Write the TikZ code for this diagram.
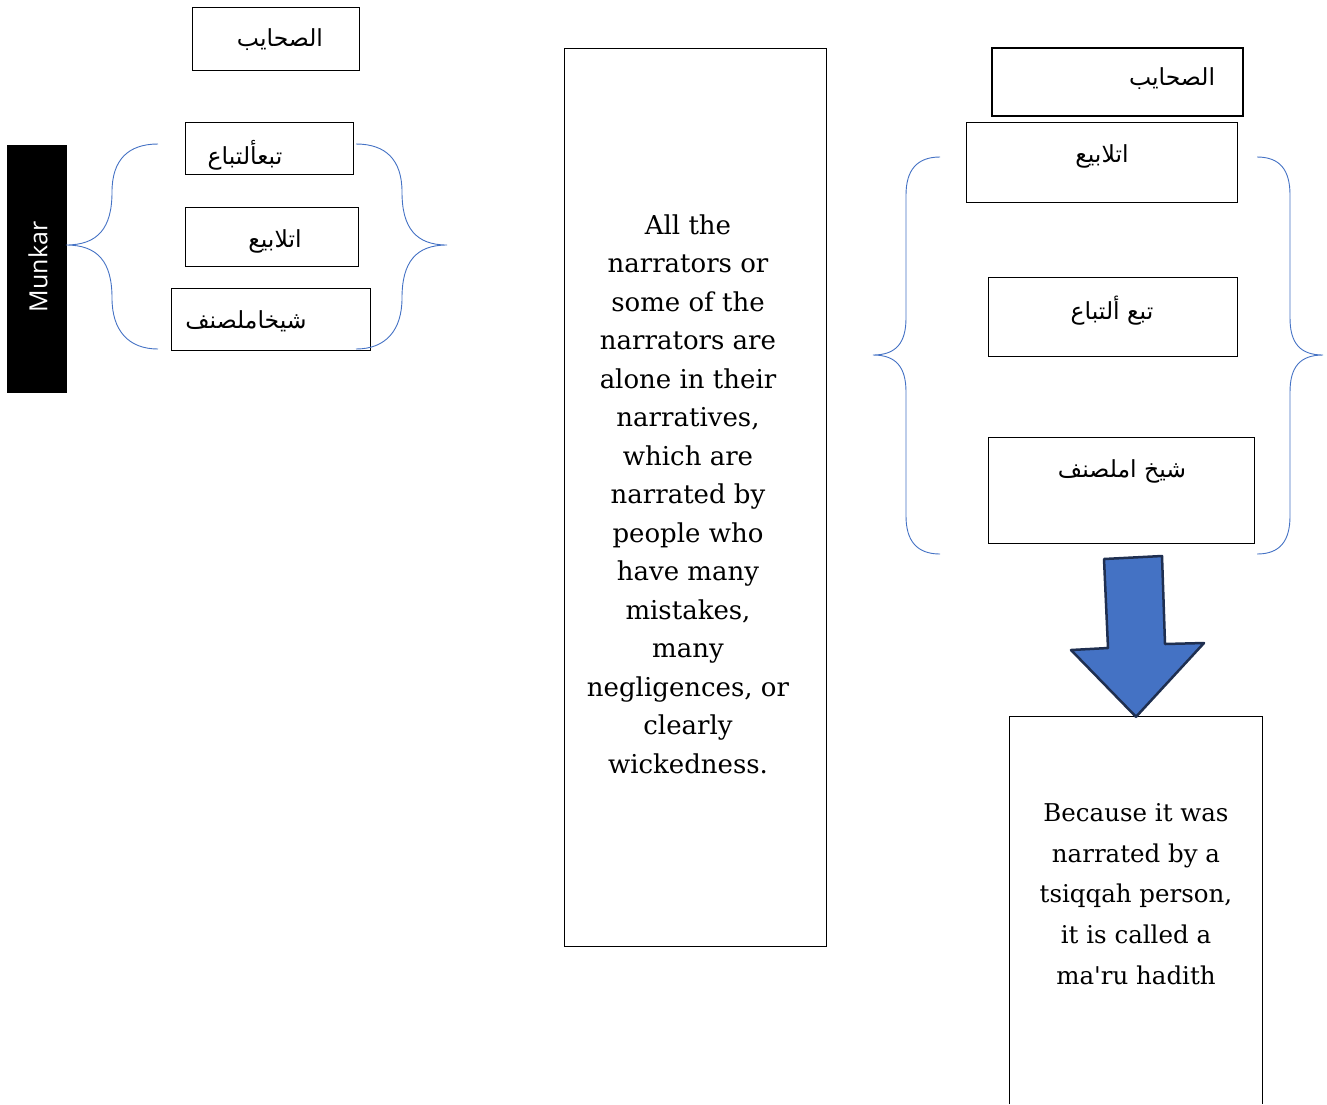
\documentclass[tikz,border=0pt]{standalone}
\usepackage{fontspec}
\newfontfamily\arabicfont[Script=Arabic]{DejaVu Sans}
\newfontfamily\labelfont{Open Sans}
\newfontfamily\storyfont{DejaVu Serif}
\TeXXeTstate=1
\definecolor{wordblue}{HTML}{4472C4}
\definecolor{arrowedge}{HTML}{1F2F50}
\tikzset{
	box/.style={draw, line width=0.9pt, inner sep=0pt},
	arab/.style={font=\arabicfont\fontsize{23.5}{28}\selectfont, inner sep=0pt},
	brace/.style={draw=wordblue, line width=0.9pt},
	story/.style={align=center, inner sep=0pt}
}

\begin{document}
\begin{tikzpicture}[x=1pt,y=-1pt]
	\useasboundingbox (0,0) rectangle (1327,1104);

	% Left group
	\node[box, fill=black, minimum width=59, minimum height=247] (munkar) at (36.5,268.5) {};
	\node[rotate=90, text=white, font=\labelfont\fontsize{25}{30}\selectfont] (munkartext) at (38,267) {Munkar};

	\node[box, minimum width=167, minimum height=63] (sahabiL) at (275.5,38.5) {};
	\node[box, minimum width=168, minimum height=52] (tabiL) at (269,148) {};
	\node[box, minimum width=173, minimum height=59] (itlabiL) at (271.5,236.5) {};
	\node[box, minimum width=199, minimum height=62] (shaikhL) at (270.5,319) {};

	\node[arab] (sahabiLt) at (280,40) {\beginR الصحايب\endR};
	\node[arab] (tabiLt) at (245,155) {\beginR تبعألتباع\endR};
	\node[arab] (itlabiLt) at (275,241) {\beginR اتلابيع\endR};
	\node[arab] (shaikhLt) at (246,321) {\beginR شيخاملصنف\endR};

	% braces round the left group
	\draw[brace] (158,144) .. controls (128,144) and (112,160) .. (112,192)
		.. controls (112,228) and (98,245) .. (66,245)
		.. controls (98,245) and (112,262) .. (112,298)
		.. controls (112,330) and (128,349) .. (158,349);
	\draw[brace] (356,144) .. controls (386,144) and (402,160) .. (402,192)
		.. controls (402,228) and (416,245) .. (447,245)
		.. controls (416,245) and (402,262) .. (402,298)
		.. controls (402,330) and (386,349) .. (356,349);

	% Middle box
	\node[box, minimum width=262, minimum height=898] (middle) at (695,497) {};
	\node[story, font=\storyfont\fontsize{26}{38.5}\selectfont] (middletext) at (688,494) {All the\\ narrators or\\ some of the\\ narrators are\\ alone in their\\ narratives,\\ which are\\ narrated by\\ people who\\ have many\\ mistakes,\\ many\\ negligences, or\\ clearly\\ wickedness.};

	% Right group
	\node[box, line width=2pt, minimum width=251, minimum height=68] (sahabiR) at (1117.5,82) {};
	\node[box, minimum width=271, minimum height=80] (itlabiR) at (1101.5,162) {};
	\node[box, minimum width=249, minimum height=79] (tabiR) at (1112.5,316.5) {};
	\node[box, minimum width=266, minimum height=106] (shaikhR) at (1121,490) {};

	\node[arab] (sahabiRt) at (1172,79) {\beginR الصحايب\endR};
	\node[arab] (itlabiRt) at (1102,156) {\beginR اتلابيع\endR};
	\node[arab] (tabiRt) at (1112,311) {\beginR تبع ألتباع\endR};
	\node[arab] (shaikhRt) at (1122,471) {\beginR شيخ املصنف\endR};

	% braces round the right group
	\draw[brace] (940,157) .. controls (917,157) and (906,170) .. (906,195)
		-- (906,318) .. controls (906,343) and (896,355) .. (873,355)
		.. controls (896,355) and (906,367) .. (906,392)
		-- (906,516) .. controls (906,541) and (917,554) .. (940,554);
	\draw[brace] (1257,157) .. controls (1280,157) and (1290,170) .. (1290,195)
		-- (1290,318) .. controls (1290,343) and (1300,355) .. (1323,355)
		.. controls (1300,355) and (1290,367) .. (1290,392)
		-- (1290,516) .. controls (1290,541) and (1280,554) .. (1257,554);

	% Bottom box, cut by the page
	\node[minimum width=252, minimum height=387, inner sep=0pt] (maruf) at (1136,910.5) {};
	\draw[line width=0.9pt] (maruf.south west) -- (maruf.north west) -- (maruf.north east) -- (maruf.south east);
	\node[story, font=\storyfont\fontsize{24.5}{40.7}\selectfont] (maruftext) at (1136,894) {Because it was\\ narrated by a\\ tsiqqah person,\\ it is called a\\ ma'ru hadith};

	% block arrow
	\draw[fill=wordblue, draw=arrowedge, line width=2.5pt, line join=round]
		(1104,559) -- (1162,556) -- (1165,644) -- (1204,643) -- (maruf.north) -- (1071,650) -- (1108,648) -- cycle;
\end{tikzpicture}
\end{document}
